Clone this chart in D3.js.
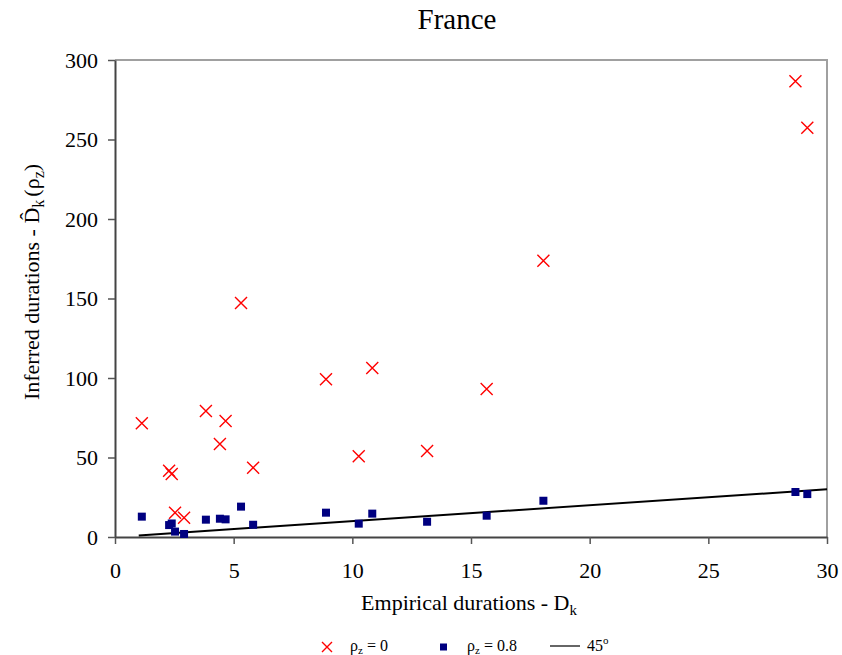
<!DOCTYPE html>
<html>
<head>
<meta charset="utf-8">
<script src="https://cdn.jsdelivr.net/npm/d3@7"></script>
</head>
<body style="margin:0">
<script>
// Data
const empirical = [1.13, 2.28, 2.39, 2.53, 2.91, 3.83, 4.42, 4.66, 5.31, 5.82, 8.89, 10.27, 10.84, 13.15, 15.66, 18.05, 28.67, 29.17];
const inferredRho0 = [71.5, 41.7, 39.6, 15.3, 12.1, 79.2, 58.5, 73.0, 147.2, 43.6, 99.2, 50.8, 106.3, 54.1, 93.1, 173.8, 286.6, 257.4];
const inferredRho08 = [12.8, 7.5, 8.5, 3.4, 1.9, 10.9, 11.5, 11.1, 19.1, 7.7, 15.3, 8.4, 14.7, 9.6, 13.4, 22.8, 28.3, 27.0];
const line45 = [1.0, 30];
const xTicks = [0, 5, 10, 15, 20, 25, 30];
const yTicks = [0, 50, 100, 150, 200, 250, 300];

const width = 842, height = 655;
const margin = {top: 60, left: 115};
const serif = "Liberation Serif";

const svg = d3.select("body").append("svg")
    .attr("width", width)
    .attr("height", height)
    .attr("font-family", serif);

const x = d3.scaleLinear().domain([0, 30]).range([0, 712]);
const y = d3.scaleLinear().domain([0, 300]).range([477, 0]);

const g = svg.append("g")
    .attr("transform", `translate(${margin.left},${margin.top})`);

// Title
svg.append("text")
    .attr("font-family", serif)
    .attr("x", 457).attr("y", 29)
    .attr("text-anchor", "middle")
    .attr("font-size", 29)
    .text("France");

// Frame (top and right are grey)
g.append("path")
    .attr("d", `M0,0H${x(30)}V${y(0)}`)
    .attr("fill", "none")
    .attr("stroke", "#a0a0a0")
    .attr("stroke-width", 2);

// Axes
const xAxis = g.append("g")
    .attr("transform", `translate(0,${y(0)})`)
    .call(d3.axisBottom(x).tickValues(xTicks).tickSize(7).tickSizeOuter(0));
const yAxis = g.append("g")
    .call(d3.axisLeft(y).tickValues(yTicks).tickSize(7).tickSizeOuter(0));

[xAxis, yAxis].forEach(a => {
    a.attr("font-family", serif);
    a.select(".domain").attr("stroke", "#444").attr("stroke-width", 2);
    a.selectAll(".tick line").attr("stroke", "#555").attr("stroke-width", 1.5);
    a.selectAll(".tick text")
        .attr("font-family", serif)
        .attr("font-size", 22)
        .attr("fill", "#000");
});
xAxis.selectAll(".tick text").attr("y", 25);
yAxis.selectAll(".tick text").attr("x", -17);

// Axis titles
const xt = svg.append("text")
    .attr("font-family", serif)
    .attr("x", 469).attr("y", 610)
    .attr("text-anchor", "middle")
    .attr("font-size", 22)
    .text("Empirical durations - D");
xt.append("tspan").attr("font-size", 15).attr("dy", 5).text("k");

const yt = svg.append("text")
    .attr("font-family", serif)
    .attr("transform", "translate(39,282) rotate(-90)")
    .attr("text-anchor", "middle")
    .attr("font-size", 22);
yt.append("tspan").text("Inferred durations - D\u0302");
yt.append("tspan").attr("font-size", 16).attr("dy", 5).text("k");
yt.append("tspan").attr("dy", -5).attr("dx", 3).text("(\u03c1");
yt.append("tspan").attr("font-size", 16).attr("dy", 5).text("z");
yt.append("tspan").attr("dy", -5).text(")");

// 45 degree line
g.append("path")
    .datum(line45)
    .attr("fill", "none")
    .attr("stroke", "#000")
    .attr("stroke-width", 2)
    .attr("d", d3.line().x(d => x(d)).y(d => y(d)));

// rho = 0 crosses
const cs = 6;
g.append("g").selectAll("path")
    .data(empirical.map((d, i) => [d, inferredRho0[i]]))
    .join("path")
    .attr("d", d => {
        const px = x(d[0]), py = y(d[1]);
        return `M${px - cs},${py - cs}L${px + cs},${py + cs}M${px - cs},${py + cs}L${px + cs},${py - cs}`;
    })
    .attr("stroke", "#ff0000")
    .attr("stroke-width", 1.4);

// rho = 0.8 squares
const sq = 8;
g.append("g").selectAll("rect")
    .data(empirical.map((d, i) => [d, inferredRho08[i]]))
    .join("rect")
    .attr("x", d => x(d[0]) - sq / 2)
    .attr("y", d => y(d[1]) - sq / 2)
    .attr("width", sq).attr("height", sq)
    .attr("fill", "#000080");

// Legend
const leg = svg.append("g").attr("transform", "translate(0,647)").attr("font-family", serif);
leg.append("path")
    .attr("d", "M322,-5L332,5M322,5L332,-5")
    .attr("stroke", "#ff0000").attr("stroke-width", 1.4);
const l1 = leg.append("text").attr("x", 350).attr("y", 4).attr("font-size", 16);
l1.append("tspan").text("\u03c1");
l1.append("tspan").attr("font-size", 11).attr("dy", 3).text("z");
l1.append("tspan").attr("dy", -3).text(" = 0");

leg.append("rect").attr("x", 440).attr("y", -3.5).attr("width", 7).attr("height", 7).attr("fill", "#000080");
const l2 = leg.append("text").attr("x", 467).attr("y", 4).attr("font-size", 16);
l2.append("tspan").text("\u03c1");
l2.append("tspan").attr("font-size", 11).attr("dy", 3).text("z");
l2.append("tspan").attr("dy", -3).text(" = 0.8");

leg.append("line").attr("x1", 550).attr("x2", 580).attr("y1", -1).attr("y2", -1)
    .attr("stroke", "#000").attr("stroke-width", 1.2);
const l3 = leg.append("text").attr("x", 587).attr("y", 4).attr("font-size", 16);
l3.append("tspan").text("45");
l3.append("tspan").attr("font-size", 11).attr("dy", -7).text("o");
</script>
</body>
</html>
